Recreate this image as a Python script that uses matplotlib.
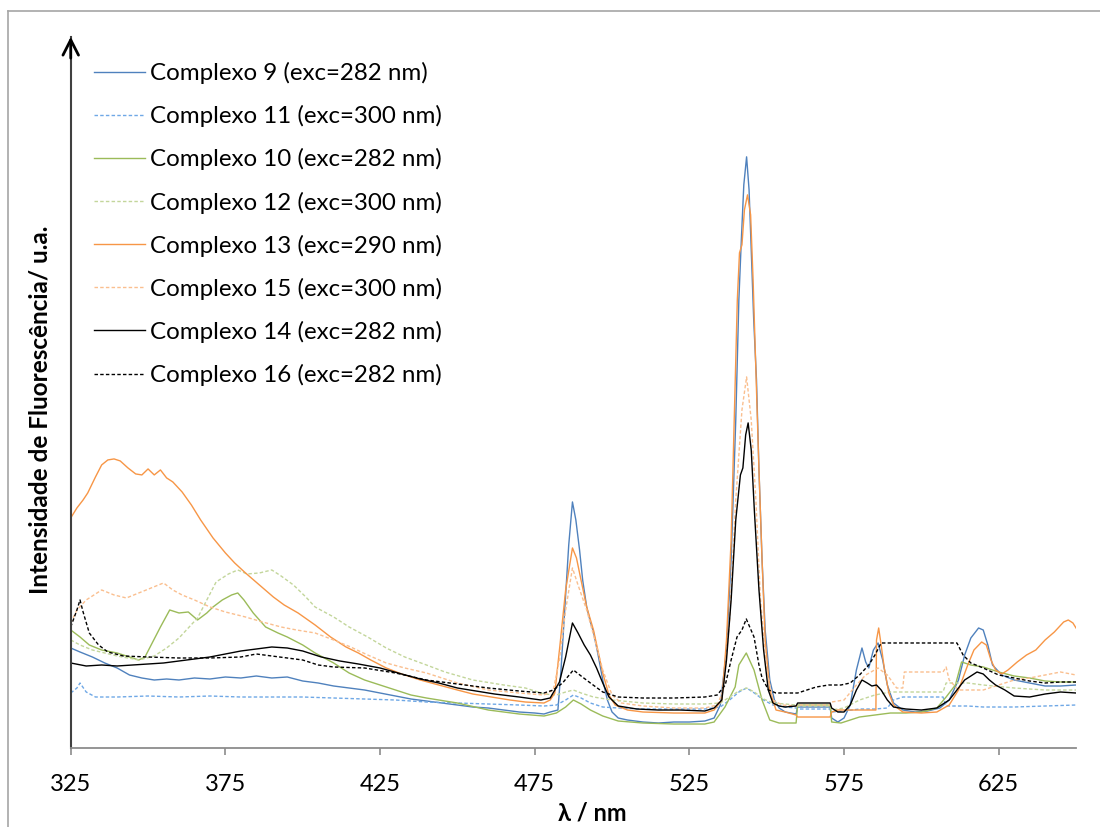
import matplotlib
matplotlib.use("Agg")
import matplotlib.pyplot as plt
from matplotlib.lines import Line2D

plt.rcParams['font.family'] = ['Lato', 'DejaVu Sans']

# ---- spectra: wavelength (nm) and fluorescence intensity (a.u.) ----
c9_nm = [325, 328, 332, 336, 340, 344, 348, 352, 356, 360, 365, 370, 375, 380, 385, 390, 395, 400,
         405, 410, 415, 420, 425, 430, 435, 440, 445, 450, 455, 460, 465, 470, 475, 478, 480, 482.5,
         483.5, 485, 486, 487.2, 488.3, 489.5, 490.5, 491.8, 493, 494, 495.5, 497, 498.5, 500, 502,
         505, 510, 515, 520, 525, 530, 533, 535, 537, 538.5, 540, 541, 541.8, 542.6, 543.5, 544.3,
         545, 545.8, 546.7, 547.5, 548.5, 549.5, 551, 552.5, 554, 556, 559.5, 560, 570.5, 571, 573,
         575, 577, 579, 580.8, 582, 583, 584.5, 586, 587.5, 589, 591, 594, 598, 602, 606, 609, 612,
         614, 616, 618.5, 620, 621.5, 623, 626, 630, 635, 640, 645, 650]
c9_int = [100, 96, 91, 85, 80, 73, 70, 68, 69, 68, 70, 69, 71, 70, 72, 70, 71, 67,
          65, 62, 60, 58, 55, 52, 49, 47, 45, 43, 41, 40, 38, 36, 35, 34, 36, 38,
          78, 153, 203, 246, 228, 198, 168, 141, 126, 116, 93, 68, 48, 36, 30,
          28, 26, 25, 26, 26, 27, 30, 43, 98, 188, 328, 448, 508, 563, 591, 558,
          498, 428, 368, 278, 188, 118, 68, 48, 40, 36, 34, 41, 41, 30, 26,
          30, 43, 78, 100, 86, 80, 98, 105, 88, 63, 45, 38, 36, 37, 40, 48, 68,
          93, 110, 120, 118, 103, 83, 73, 68, 65, 62, 62, 63]

c11_nm = [325, 327, 328, 330, 333, 340, 350, 360, 370, 380, 390, 400, 410, 420, 430, 440, 450, 460,
          470, 478, 482, 485, 487.5, 490, 493, 497, 502, 510, 520, 530, 535, 538, 541, 543.5, 546,
          549, 552, 556, 559.5, 560, 570.5, 571, 575, 580, 585, 589, 591, 594, 600, 607, 608, 615,
          620, 630, 640, 650]
c11_int = [55, 60, 65, 56, 51, 51, 52, 51, 52, 51, 51, 51, 50, 49, 48, 46, 45, 44,
           43, 42, 43, 48, 53, 50, 45, 41, 40, 39, 39, 39, 41, 48, 56, 60, 55,
           48, 43, 41, 40, 39, 39, 36, 37, 39, 39, 40, 48, 51, 51, 51, 42, 42,
           41, 41, 42, 43]

c10_nm = [325, 328, 331, 335, 340, 344, 347, 349, 351, 354, 357, 360, 363, 366, 369, 371, 374, 377,
          379, 381, 384, 388, 392, 395, 400, 404, 410, 415, 420, 427, 435, 440, 450, 460, 470, 478,
          482, 485, 487.5, 490, 493, 497, 502, 510, 520, 530, 533, 536.5, 539.8, 541, 543.4, 545.9,
          548.5, 551, 554, 559.5, 560, 570.5, 571, 574, 577, 580, 585, 590, 595, 600, 605, 608, 611,
          613, 616, 620, 625, 630, 635, 640, 645, 650]
c10_int = [118, 111, 103, 98, 95, 91, 88, 91, 103, 121, 138, 135, 136, 128, 135, 141, 148, 153,
           155, 148, 135, 121, 115, 111, 103, 95, 85, 75, 68, 61, 53, 50, 45, 38, 34, 32,
           35, 41, 48, 44, 38, 32, 27, 25, 24, 24, 26, 41, 61, 83, 95, 78,
           48, 28, 25, 25, 43, 43, 26, 25, 28, 31, 33, 35, 35, 36, 40, 51, 63,
           86, 83, 81, 76, 72, 70, 67, 66, 66]

c12_nm = [325, 328, 332, 336, 340, 347, 352, 356, 360, 363, 366, 369, 372, 376, 379, 382, 386, 390,
          393, 397, 401, 404, 410, 415, 421, 427, 433, 440, 446, 455, 465, 472, 478, 482, 485, 487.5,
          490, 494, 500, 510, 520, 530, 535, 538, 541, 543.5, 546, 549, 552, 556, 559.5, 560, 570.5,
          571, 575, 580, 585, 590, 607, 608, 615, 620, 630, 640, 650]
c12_int = [108, 103, 98, 95, 92, 88, 92, 100, 110, 120, 130, 148, 166, 174, 178, 174, 175, 178,
           172, 163, 151, 141, 131, 121, 111, 100, 91, 83, 76, 68, 63, 60, 54, 53, 56, 58,
           55, 51, 48, 45, 44, 44, 45, 51, 57, 60, 56, 49, 45, 44, 43, 42, 42,
           38, 40, 48, 53, 56, 56, 65, 65, 63, 60, 58, 58]

c13_nm = [325, 327, 329, 330.5, 333, 335, 337, 339, 341, 343.5, 346, 348, 350, 352, 354, 356, 358,
          361, 364, 367, 371, 375, 378, 381.5, 386, 390.5, 394, 398.5, 404, 409, 414, 418, 422, 427,
          432, 438, 444, 450, 455, 461, 467, 472, 478, 480, 481.5, 483.1, 485, 487.2, 488.5, 489.5,
          491.8, 494, 497, 499, 501, 505, 510, 520, 530, 533, 535.5, 537, 538.5, 539.5, 540.5, 541.2,
          542, 542.8, 543.8, 544.8, 545.6, 546.5, 547.5, 548.5, 549.5, 551, 553, 556, 559.5, 560,
          570.5, 571, 573, 585.3, 585.5, 586.2, 587, 588, 589.5, 591, 594, 600, 605, 609, 612, 615,
          617, 619.5, 621, 622.5, 624, 626, 628, 631, 634, 637, 640, 643, 646, 647.5, 649, 650]
c13_int = [230, 240, 248, 255, 271, 283, 288, 289, 287, 280, 274, 273, 279, 273, 278, 270, 266,
           256, 243, 228, 210, 195, 185, 175, 163, 151, 143, 135, 123, 111, 101, 95, 88, 80,
           74, 68, 63, 58, 54, 51, 48, 46, 45, 48, 55, 101, 158, 200, 190, 175,
           141, 118, 75, 53, 43, 38, 36, 35, 35, 38, 48, 108, 208, 328, 448, 495,
           503, 538, 553, 533, 468, 378, 278, 188, 108, 58, 38, 36, 33, 31,
           31, 36, 38, 38, 108, 120, 103, 80, 55, 43, 36, 35, 36, 43, 58, 83,
           98, 106, 103, 88, 78, 74, 78, 86, 93, 98, 108, 116, 126, 128, 125, 120]

c15_nm = [325, 327, 330, 335, 339, 343, 347, 351, 355, 358, 361, 365, 370, 375, 381.5, 387, 393, 398,
          404, 410, 415.5, 421, 427, 433, 440, 450, 460, 470, 478, 481, 483, 485, 487.2, 489, 491.8,
          494, 497, 500, 503, 510, 520, 530, 534, 536, 538, 540, 542, 543.5, 545, 546.5, 548, 550,
          552, 555, 559.5, 560, 570.5, 571, 575, 579, 582, 586, 589, 592, 594, 594.5, 607, 608, 609,
          612, 620, 625, 630, 635, 640, 645, 650]
c15_int = [125, 138, 148, 158, 153, 150, 155, 160, 165, 158, 153, 148, 141, 136, 131, 126, 121, 118,
           115, 108, 101, 93, 85, 80, 75, 65, 58, 55, 53, 58, 88, 138, 180, 163, 138,
           113, 78, 53, 45, 42, 40, 40, 43, 58, 128, 248, 338, 371, 328, 248, 148, 78,
           48, 43, 42, 43, 43, 46, 48, 63, 73, 80, 73, 60, 60, 76, 76, 81, 68,
           58, 58, 63, 68, 70, 73, 76, 73]

c14_nm = [325, 330, 335, 340, 345, 350, 355, 360, 365, 370, 375, 380, 385, 390, 395, 400, 406, 412,
          418, 425, 432, 438, 444, 450, 456, 462, 470, 477, 480, 483, 485, 487.2, 489, 491, 493, 495,
          497, 499, 502, 508, 515, 522, 530, 533, 535.5, 537, 538.5, 540, 541.5, 542.3, 543.2, 544,
          545, 546, 547.5, 549, 550.5, 552, 554, 556, 559.5, 560, 570.5, 571, 573, 575, 577, 579,
          580.8, 582.5, 584, 585.5, 587, 589, 591, 595, 600, 605, 609, 612, 614, 616, 618, 620, 622,
          624, 627, 630, 635, 640, 645, 650]
c14_int = [85, 82, 83, 82, 83, 84, 85, 87, 89, 91, 94, 97, 99, 101, 100, 97, 91, 87,
           84, 80, 74, 69, 65, 60, 57, 54, 51, 48, 50, 66, 91, 125, 115, 103, 93, 80,
           65, 51, 42, 39, 38, 38, 37, 40, 48, 88, 148, 228, 273, 280, 313, 325,
           298, 238, 158, 98, 58, 45, 42, 41, 42, 45, 45, 40, 36, 36, 43, 58,
           68, 65, 62, 63, 58, 48, 41, 39, 38, 40, 48, 60, 68, 72, 76, 74, 68,
           63, 58, 52, 51, 54, 56, 55]

c16_nm = [325, 327, 328, 329, 331, 334, 337, 342, 350, 360, 370, 380, 385, 390, 395, 400, 405, 410,
          420, 430, 440, 450, 460, 470, 478, 481, 484, 487.5, 490, 493, 497, 502, 510, 520, 530, 534,
          536.6, 538.5, 540.4, 542, 543.4, 545.9, 547.5, 548.5, 550.6, 553, 557, 560, 563, 566, 570,
          574, 577, 580, 583, 585, 587, 611.5, 613.5, 616, 620, 625, 630, 635, 640, 645, 650]
c16_int = [121, 138, 148, 136, 115, 103, 96, 92, 91, 90, 90, 91, 94, 92, 90, 88, 83, 81,
           80, 75, 68, 64, 60, 57, 55, 58, 65, 78, 72, 65, 56, 51, 50, 50, 51, 53,
           63, 88, 111, 118, 129, 111, 83, 70, 58, 55, 55, 55, 58, 61, 63,
           63, 65, 73, 83, 93, 105, 105, 93, 85, 80, 73, 70, 67, 65, 66, 66]

labels = ["Complexo 9 (exc=282 nm)", "Complexo 11 (exc=300 nm)",
          "Complexo 10 (exc=282 nm)", "Complexo 12 (exc=300 nm)",
          "Complexo 13 (exc=290 nm)", "Complexo 15 (exc=300 nm)",
          "Complexo 14 (exc=282 nm)", "Complexo 16 (exc=282 nm)"]
xticks = [325, 375, 425, 475, 525, 575, 625]

series = [(c9_nm, c9_int), (c11_nm, c11_int), (c10_nm, c10_int), (c12_nm, c12_int),
          (c13_nm, c13_int), (c15_nm, c15_int), (c14_nm, c14_int), (c16_nm, c16_int)]
colors = ['#4F81BD', '#6FA8E6', '#9BBB59', '#C3D69B',
          '#F79646', '#FABF8F', '#000000', '#000000']
dots = (0, (2.5, 1.6))
styles = ['-', dots, '-', dots, '-', dots, '-', dots]

fig = plt.figure(figsize=(11, 8.27), dpi=100)
ax = fig.add_axes([0.0643, 0.0955, 0.9139, 0.860])

for (x, y), c, ls, lab in zip(series, colors, styles, labels):
    ax.plot(x, y, color=c, ls=ls, lw=1.0, label=lab)

ax.set_xlim(325, 650)
ax.set_ylim(0, 711)
ax.set_xticks(xticks)
ax.set_yticks([])
for s in ['top', 'right']:
    ax.spines[s].set_visible(False)
ax.spines['bottom'].set_color('#8c8c8c')
ax.spines['bottom'].set_linewidth(1.3)
ax.spines['left'].set_color('#404040')
ax.spines['left'].set_linewidth(1.5)
ax.tick_params(axis='x', length=5, width=1.2, color='#8c8c8c', pad=14,
               labelsize=17, labelcolor='black')

# arrow head on the intensity axis
ax.annotate('', xy=(0, 1.0), xytext=(0, 0.97), xycoords='axes fraction',
            arrowprops=dict(arrowstyle='->,head_length=0.55,head_width=0.28',
                            mutation_scale=20, lw=2.0, color='black',
                            shrinkA=0, shrinkB=0))

fig.text(40 / 1100, 1 - 410 / 827, "Intensidade de Fluorescência/ u.a.", fontsize=17.5,
         fontweight='bold', rotation=90, ha='center', va='center')
fig.text(592 / 1100, 1 - 813 / 827, "λ / nm", fontsize=17, fontweight='bold',
         ha='center', va='center')

leg = ax.legend(loc='upper left', bbox_to_anchor=(0.0138, 0.978),
                frameon=False, fontsize=17.4, handlelength=2.1, handletextpad=0.22,
                labelspacing=0.87, borderaxespad=0)

# outer frame
fig.add_artist(Line2D([8 / 1100, 8 / 1100], [0, 1 - 11 / 827], transform=fig.transFigure,
                      color='#a6a6a6', lw=1.2))
fig.add_artist(Line2D([8 / 1100, 1], [1 - 11 / 827, 1 - 11 / 827], transform=fig.transFigure,
                      color='#a6a6a6', lw=1.2))

fig.savefig("out.png", dpi=100)
